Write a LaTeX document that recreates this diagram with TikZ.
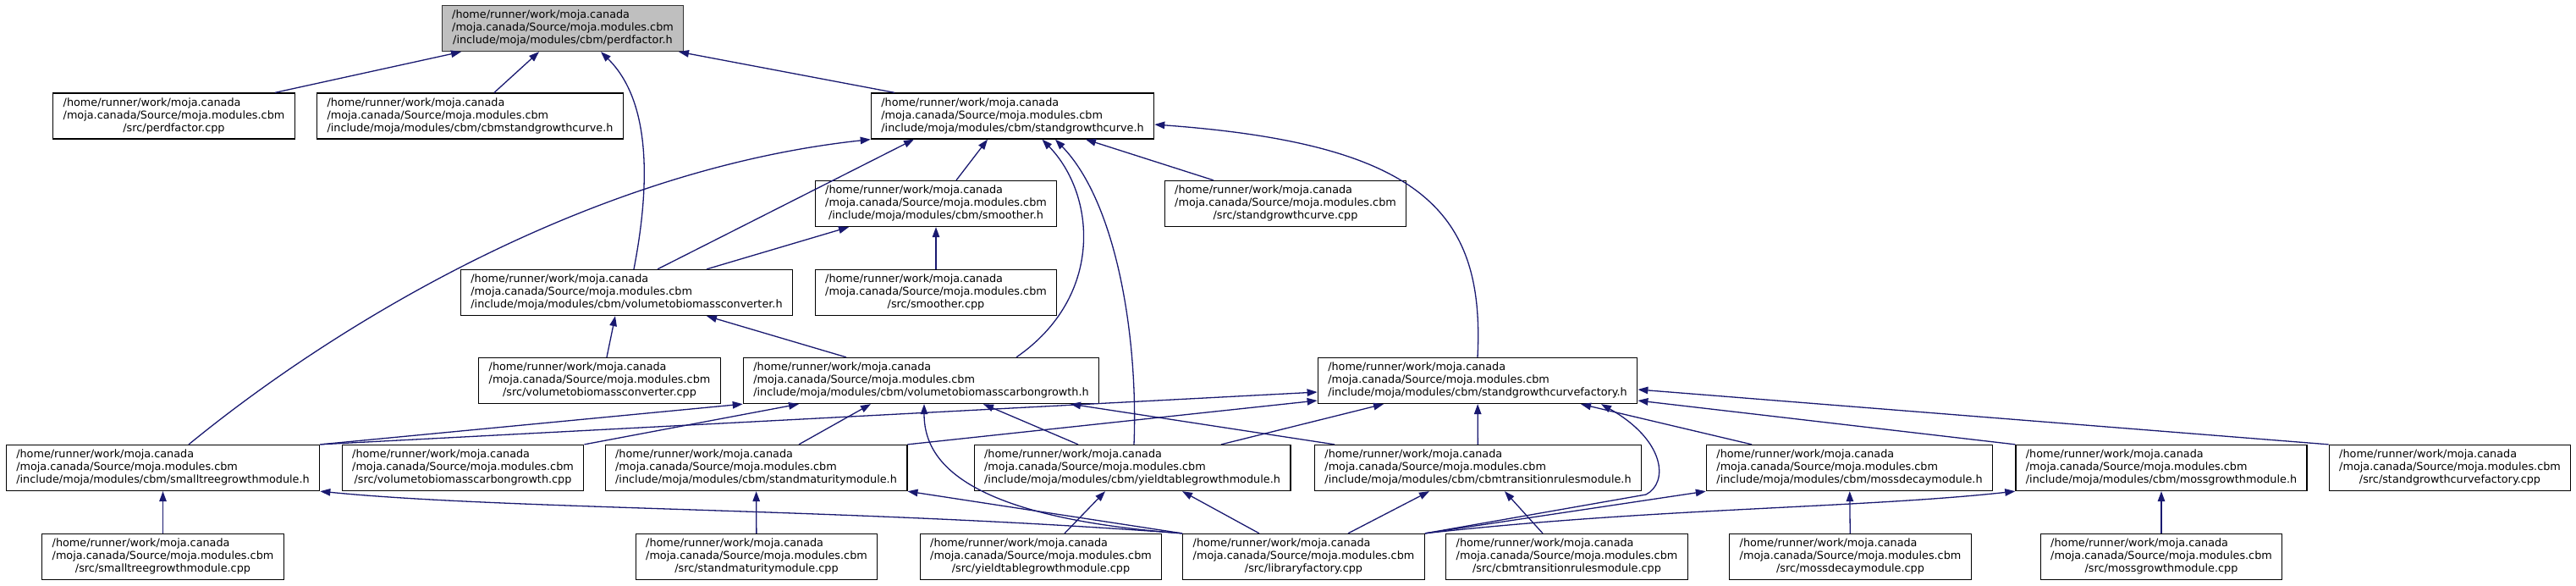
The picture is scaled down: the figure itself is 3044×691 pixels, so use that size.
\documentclass[tikz,border=0pt]{standalone}
\usepackage{fontspec}
\newfontfamily\dvsans{DejaVu Sans}
\usetikzlibrary{arrows.meta}
\definecolor{edgeblue}{RGB}{25,25,112}
\definecolor{nodegray}{RGB}{191,191,191}
\newcommand{\modpath}[1]{\begin{tabular}{@{}l@{}}/home/runner/work/moja.canada\\/moja.canada/Source/moja.modules.cbm\\\multicolumn{1}{@{}c@{}}{#1}\end{tabular}}

\begin{document}
\begin{tikzpicture}[
        x=1pt, y=-1pt,
        box/.style={draw=black, fill=white, line width=1.3pt, inner xsep=12pt, inner ysep=4.5pt, font=\dvsans\fontsize{12.8}{15}\selectfont},
        arr/.style={-{Triangle[length=12pt, width=8.5pt]}, line width=1.3pt, edgeblue}
      ]
        \useasboundingbox (0,0) rectangle (3044,691);
        \node[box, fill=nodegray, draw=black!80] (pfh) at (665,33.5) {\modpath{/include/moja/modules/cbm/perdfactor.h}};
        \node[box] (pfcpp) at (205.5,137) {\modpath{/src/perdfactor.cpp}};
        \node[box] (cbmsgc) at (555.5,137) {\modpath{/include/moja/modules/cbm/cbmstandgrowthcurve.h}};
        \node[box] (sgch) at (1196.5,137) {\modpath{/include/moja/modules/cbm/standgrowthcurve.h}};
        \node[box] (smooth) at (1106,240.5) {\modpath{/include/moja/modules/cbm/smoother.h}};
        \node[box] (sgccpp) at (1519,240.5) {\modpath{/src/standgrowthcurve.cpp}};
        \node[box] (smoothcpp) at (1106,345.5) {\modpath{/src/smoother.cpp}};
        \node[box] (vconv) at (740.5,345.5) {\modpath{/include/moja/modules/cbm/volumetobiomassconverter.h}};
        \node[box] (vconvcpp) at (708.5,449.5) {\modpath{/src/volumetobiomassconverter.cpp}};
        \node[box] (vcarb) at (1088.5,449.5) {\modpath{/include/moja/modules/cbm/volumetobiomasscarbongrowth.h}};
        \node[box] (sgcf) at (1746,449.5) {\modpath{/include/moja/modules/cbm/standgrowthcurvefactory.h}};
        \node[box] (smalltree) at (192.5,552.5) {\modpath{/include/moja/modules/cbm/smalltreegrowthmodule.h}};
        \node[box] (vcarbcpp) at (547,552.5) {\modpath{/src/volumetobiomasscarbongrowth.cpp}};
        \node[box] (standmat) at (893.5,552.5) {\modpath{/include/moja/modules/cbm/standmaturitymodule.h}};
        \node[box] (yieldtab) at (1338,552.5) {\modpath{/include/moja/modules/cbm/yieldtablegrowthmodule.h}};
        \node[box] (cbmtrans) at (1746.5,552.5) {\modpath{/include/moja/modules/cbm/cbmtransitionrulesmodule.h}};
        \node[box] (mossdec) at (2185.5,552.5) {\modpath{/include/moja/modules/cbm/mossdecaymodule.h}};
        \node[box] (mossgro) at (2554,552.5) {\modpath{/include/moja/modules/cbm/mossgrowthmodule.h}};
        \node[box] (sgcfcpp) at (2895,552.5) {\modpath{/src/standgrowthcurvefactory.cpp}};
        \node[box] (smalltreecpp) at (192.5,657.5) {\modpath{/src/smalltreegrowthmodule.cpp}};
        \node[box] (standmatcpp) at (894,657.5) {\modpath{/src/standmaturitymodule.cpp}};
        \node[box] (yieldtabcpp) at (1230,657.5) {\modpath{/src/yieldtablegrowthmodule.cpp}};
        \node[box] (libfac) at (1540.5,657.5) {\modpath{/src/libraryfactory.cpp}};
        \node[box] (cbmtranscpp) at (1851.5,657.5) {\modpath{/src/cbmtransitionrulesmodule.cpp}};
        \node[box] (mossdeccpp) at (2186.5,657.5) {\modpath{/src/mossdecaymodule.cpp}};
        \node[box] (mossgrocpp) at (2554,657.5) {\modpath{/src/mossgrowthmodule.cpp}};
        % perdfactor.h
        \draw[arr] ([xshift=119.5pt]pfcpp.north) -- ([xshift=-120pt]pfh.south);
        \draw[arr] ([xshift=28.5pt]cbmsgc.north) -- ([xshift=-28pt]pfh.south);
        \draw[arr] ([xshift=8.5pt]vconv.north) .. controls (768,220) and (770,120) .. ([xshift=45pt]pfh.south);
        \draw[arr] ([xshift=-139.5pt]sgch.north) -- ([xshift=137pt]pfh.south);
        % standgrowthcurve.h
        \draw[arr] ([xshift=30.5pt]smalltree.north) .. controls (400,380) and (700,200) .. (sgch.south west);
        \draw[arr] ([xshift=36.5pt]vconv.north) -- ([xshift=-116.5pt]sgch.south);
        \draw[arr] ([xshift=24pt]smooth.north) -- ([xshift=-29.5pt]sgch.south);
        \draw[arr] ([xshift=112.5pt]vcarb.north) .. controls (1305,350) and (1295,230) .. ([xshift=35pt]sgch.south);
        \draw[arr] ([xshift=2pt]yieldtab.north) .. controls (1345,400) and (1320,240) .. ([xshift=50.5pt]sgch.south);
        \draw[arr] ([xshift=-85pt]sgccpp.north) -- ([xshift=86.5pt]sgch.south);
        \draw[arr] (sgcf.north) .. controls (1755,250) and (1680,170) .. ([yshift=-10pt]sgch.east);
        % smoother.h, volumetobiomassconverter.h
        \draw[arr] ([xshift=94.5pt]vconv.north) -- ([xshift=-103pt]smooth.south);
        \draw[arr] (smoothcpp) -- (smooth);
        \draw[arr] ([xshift=8.5pt]vconvcpp.north) -- ([xshift=-13.5pt]vconv.south);
        \draw[arr] ([xshift=-88.5pt]vcarb.north) -- ([xshift=94.5pt]vconv.south);
        % volumetobiomasscarbongrowth.h
        \draw[arr] (smalltree.north east) -- (vcarb.south west);
        \draw[arr] (vcarbcpp.north east) -- ([xshift=-144.5pt]vcarb.south);
        \draw[arr] ([xshift=50.5pt]standmat.north) -- ([xshift=-59.5pt]vcarb.south);
        \draw[arr] ([xshift=-64pt]yieldtab.north) -- ([xshift=73.5pt]vcarb.south);
        \draw[arr] ([xshift=-169.5pt]cbmtrans.north) -- ([xshift=176.5pt]vcarb.south);
        \draw[arr] (libfac.north west) .. controls (1130,610) and (1092,540) .. ([xshift=3.5pt]vcarb.south);
        % standgrowthcurvefactory.h
        \draw[arr] (smalltree.north east) -- ([yshift=-13.5pt]sgcf.west);
        \draw[arr] (standmat.north east) -- ([yshift=-23.5pt]sgcf.west);
        \draw[arr] ([xshift=105pt]yieldtab.north) -- ([xshift=-111pt]sgcf.south);
        \draw[arr] (cbmtrans) -- (sgcf);
        \draw[arr] ([xshift=-115.5pt]mossdec.north) -- ([xshift=122pt]sgcf.south);
        \draw[arr] (libfac.north east) -- (1945,584) .. controls (1972,570) and (1968,520) .. ([xshift=146pt]sgcf.south);
        \draw[arr] (sgcfcpp.north west) -- ([yshift=-10.5pt]sgcf.east);
        \draw[arr] (mossgro.north west) -- ([yshift=-23.5pt]sgcf.east);
        % modules
        \draw[arr] (smalltreecpp) -- (smalltree);
        \draw[arr] (libfac.north west) .. controls (1000,600) and (600,602) .. (smalltree.south east);
        \draw[arr] (libfac.north west) -- (standmat.south east);
        \draw[arr] (standmatcpp) -- (standmat);
        \draw[arr] ([xshift=28pt]yieldtabcpp.north) -- ([xshift=-32pt]yieldtab.south);
        \draw[arr] ([xshift=-52.5pt]libfac.north) -- ([xshift=59pt]yieldtab.south);
        \draw[arr] ([xshift=52.5pt]libfac.north) -- ([xshift=-57.5pt]cbmtrans.south);
        \draw[arr] ([xshift=-28.5pt]cbmtranscpp.north) -- ([xshift=31.5pt]cbmtrans.south);
        \draw[arr] (libfac.north east) -- (mossdec.south west);
        \draw[arr] (libfac.north east) .. controls (1950,600) and (2200,600) .. (mossgro.south west);
        \draw[arr] (mossdeccpp) -- (mossdec);
        \draw[arr] (mossgrocpp) -- (mossgro);
      \end{tikzpicture}
\end{document}
